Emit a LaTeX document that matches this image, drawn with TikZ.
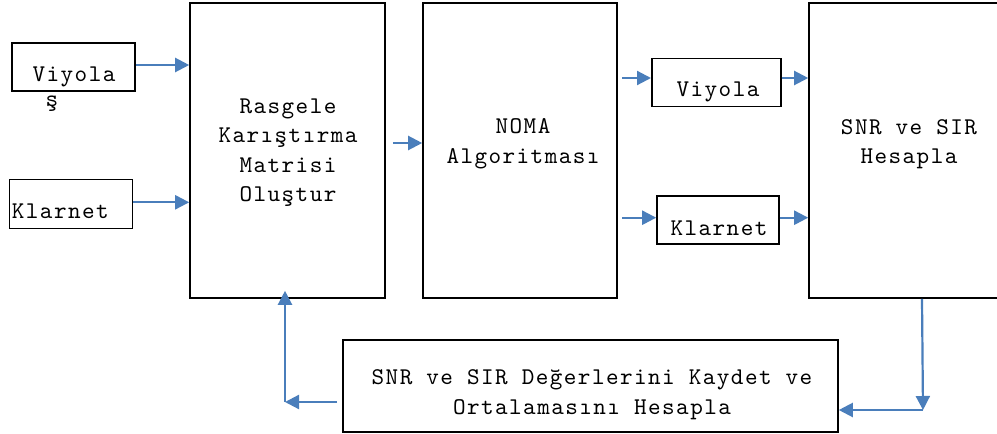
\documentclass[tikz,border=0pt]{standalone}
\usepackage{fontspec}
\newfontfamily\cour{lmmono10-regular.otf}[LetterSpace=6]
\usepackage{tikz}
\usetikzlibrary{arrows.meta, calc}

\definecolor{wordblue}{RGB}{74,126,187}

\begin{document}
\begin{tikzpicture}[x=1pt, y=-1pt,
  box/.style={draw, line width=1.6pt, inner sep=0pt},
  lbl/.style={font={\cour\fontsize{24}{29.5}\selectfont}, inner sep=0pt, align=center},
  arr/.style={draw=wordblue, line width=2.2pt, -{Triangle[length=14pt, width=14pt]}}]
\useasboundingbox (0,0) rectangle (997,434);
% girisler
\node[box, minimum width=123pt, minimum height=48pt] (viyolaA) at (73.7,67) {};
\node[lbl, anchor=base] (viyolaAtxt) at (74,81.7) {Viyola};
\node[lbl, anchor=base] (viyolaAek) at (52,106) {ş};
\node[box, minimum width=123pt, minimum height=49pt] (klarnetA) at (71,203.8) {};
\node[lbl, anchor=base west] (klarnetAtxt) at (11.7,218.3) {Klarnet};
% ana bloklar
\node[box, minimum width=195pt, minimum height=295pt] (rasgele) at (287.5,150.5) {};
\node[lbl] (rasgeletxt) at (288,152.5) {Rasgele\\Karıştırma\\Matrisi\\Oluştur};
\node[box, minimum width=194pt, minimum height=295pt] (noma) at (520,150.5) {};
\node[lbl] (nomatxt) at (523,143.7) {NOMA\\Algoritması};
\node[box, minimum width=129pt, minimum height=48pt] (viyolaB) at (716.3,82.5) {};
\node[lbl, anchor=base] (viyolaBtxt) at (718,96.7) {Viyola};
\node[box, minimum width=122pt, minimum height=48pt] (klarnetB) at (718,220) {};
\node[lbl, anchor=base] (klarnetBtxt) at (719,235) {Klarnet};
\node[box, minimum width=196pt, minimum height=295pt] (snr) at (907,150.5) {};
\node[lbl] (snrtxt) at (909,144) {SNR ve SIR\\Hesapla};
\node[box, minimum width=495pt, minimum height=92pt] (sonuc) at (590.5,386) {};
\node[lbl] (sonuctxt) at (592,394.5) {SNR ve SIR Değerlerini Kaydet ve\\Ortalamasını Hesapla};
% baglantilar
\draw[arr] ([yshift=2pt]viyolaA.east) -- ([yshift=2pt]viyolaA.east -| rasgele.west);
\draw[arr] ([yshift=1.5pt]klarnetA.east) -- ([yshift=1.5pt]klarnetA.east -| rasgele.west);
\draw[arr] ([xshift=7pt,yshift=7.5pt]rasgele.east) -- ([yshift=7.5pt]rasgele.east -| noma.west);
\draw[arr] ([xshift=-29pt,yshift=4.5pt]viyolaB.west) -- ([yshift=4.5pt]viyolaB.west);
\draw[arr] ([yshift=4.5pt]viyolaB.east) -- ([yshift=4.5pt]viyolaB.east -| snr.west);
\draw[arr] ([xshift=-34pt,yshift=2.3pt]klarnetB.west) -- ([yshift=2.3pt]klarnetB.west);
\draw[arr] ([yshift=2.3pt]klarnetB.east) -- ([yshift=2.3pt]klarnetB.east -| snr.west);
\coordinate (turnR) at (923,410);
\draw[arr] ([xshift=15pt]snr.south) -- (turnR);
\draw[arr] (turnR) -- (turnR -| sonuc.east);
\coordinate (turnL) at (285,402);
\draw[arr] ([xshift=-5pt,yshift=-16pt]sonuc.west) -- (turnL);
\draw[arr] (turnL) -- ([yshift=8pt]turnL |- rasgele.south);
\end{tikzpicture}
\end{document}
